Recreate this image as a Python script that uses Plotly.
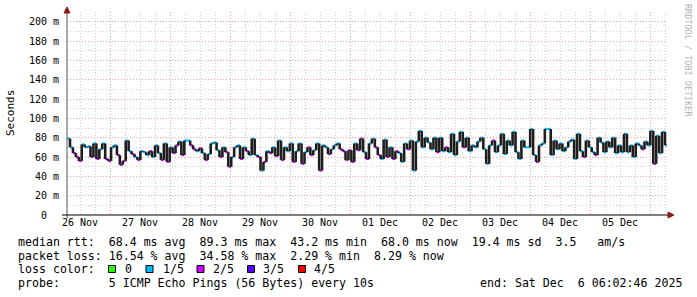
import plotly.graph_objects as go
import pandas as pd

# ---------------- data ----------------
# median round-trip time in ms, about one sample every ~72 minutes
median_rtt_ms = [
    # 26 Nov - 28 Nov
    79, 70, 64, 60, 56, 73, 70, 71, 60, 74, 58, 68, 74, 58, 56, 70, 72, 62, 52, 56,
    77, 66, 63, 60, 57, 66, 65, 62, 66, 60, 72, 64, 57, 74, 55, 70, 64, 72, 76, 62, 77,
    # 28 Nov - 30 Nov
    77, 72, 68, 66, 69, 64, 57, 63, 74, 75, 67, 60, 70, 65, 50, 60, 70, 72, 58, 70,
    66, 62, 79, 62, 60, 46, 55, 66, 64, 70, 61, 77, 57, 70, 66, 74, 55, 66, 74, 53, 65,
    # 30 Nov - 02 Dec
    70, 62, 67, 74, 46, 72, 70, 63, 68, 72, 74, 68, 66, 57, 67, 55, 74, 67, 79, 65,
    58, 74, 79, 70, 62, 58, 78, 60, 70, 58, 66, 64, 55, 74, 68, 77, 46, 76, 87, 70, 80,
    # 02 Dec - 04 Dec
    75, 68, 80, 65, 80, 66, 70, 65, 84, 62, 76, 86, 70, 80, 66, 72, 70, 76, 80, 68,
    53, 72, 77, 65, 72, 84, 63, 77, 72, 86, 65, 58, 77, 70, 70, 89, 62, 55, 72, 74, 89,
    # 04 Dec - 06 Dec
    89, 62, 77, 68, 74, 66, 70, 76, 78, 58, 84, 66, 60, 77, 70, 65, 62, 80, 75, 65,
    76, 70, 80, 64, 72, 65, 84, 65, 72, 60, 74, 72, 68, 76, 72, 87, 53, 82, 64, 86, 72,
]
# packet loss per sample, in fifths (0..4)
loss_fifths = [
    1, 1, 2, 2, 2, 1, 1, 1, 2, 1, 2, 1, 1, 2, 2, 1, 1, 2, 2, 2,
    1, 1, 2, 1, 2, 1, 1, 1, 2, 1, 1, 1, 2, 1, 2, 1, 2, 2, 1, 2, 1,
    1, 2, 2, 1, 2, 1, 2, 1, 1, 1, 1, 2, 1, 2, 2, 1, 1, 1, 2, 1,
    2, 1, 1, 1, 2, 1, 2, 1, 2, 1, 2, 1, 2, 1, 1, 1, 2, 1, 1, 2, 1,
    2, 2, 1, 1, 2, 1, 1, 2, 1, 1, 1, 2, 2, 2, 2, 2, 1, 2, 2, 1,
    2, 1, 1, 2, 2, 1, 1, 2, 1, 2, 2, 1, 1, 1, 2, 1, 1, 1, 1, 1, 1,
    1, 1, 1, 2, 1, 1, 2, 1, 1, 1, 1, 1, 2, 1, 1, 1, 1, 1, 1, 1,
    1, 1, 2, 1, 1, 1, 1, 1, 1, 1, 1, 1, 1, 1, 1, 1, 1, 2, 1, 1, 1,
    1, 1, 1, 1, 1, 1, 1, 1, 1, 1, 1, 1, 2, 1, 1, 1, 2, 1, 1, 1,
    1, 1, 1, 1, 1, 1, 1, 1, 1, 1, 1, 1, 2, 1, 1, 1, 2, 1, 1, 1, 1,
]
y_tick_values = [0, 20, 40, 60, 80, 100, 120, 140, 160, 180, 200]
y_tick_labels = ["0\u00a0\u00a0", "20 m", "40 m", "60 m", "80 m", "100 m",
                 "120 m", "140 m", "160 m", "180 m", "200 m"]
loss_labels = ["0", "1/5", "2/5", "3/5", "4/5"]
loss_colors = ["#26ff00", "#00b8ff", "#cc00ff", "#5700ff", "#ff0000"]

legend_lines = [
    "median rtt:  68.4 ms avg  89.3 ms max  43.2 ms min  68.0 ms now  19.4 ms sd  3.5   am/s",
    "packet loss: 16.54 % avg  34.58 % max  2.29 % min  8.29 % now",
    "loss color:",
    "probe:       5 ICMP Echo Pings (56 Bytes) every 10s",
]
end_text = "end: Sat Dec  6 06:02:46 2025"

range_start = pd.Timestamp("2025-11-26 06:48:00")
range_end = pd.Timestamp("2025-12-06 06:48:00")
first_sample = pd.Timestamp("2025-11-26 06:50:00")
last_sample = pd.Timestamp("2025-12-06 06:00:00")

# ---------------- figure geometry ----------------
W, H = 697, 297
L, R, T, B = 67, 30, 12, 82
PW, PH = W - L - R, H - T - B


def px(x):
    return (x - L) / PW


def py(y):
    return (H - B - y) / PH


N = len(median_rtt_ms)
times = list(pd.date_range(first_sample, last_sample, periods=N))
step = times[1] - times[0]

fig = go.Figure()

# coloured median pieces (by loss)
for k in sorted(set(loss_fifths)):
    hx, hy = [], []
    for i in range(N):
        if loss_fifths[i] == k:
            t1 = times[i + 1] if i < N - 1 else times[i] + step
            hx += [times[i], t1, None]
            hy += [median_rtt_ms[i], median_rtt_ms[i], None]
    fig.add_trace(go.Scatter(x=hx, y=hy, mode="lines",
                             line=dict(color=loss_colors[k], width=2.2),
                             hoverinfo="skip", showlegend=False))

# dark smoke / step connections
vx, vy = [], []
for i in range(N - 1):
    vx += [times[i + 1], times[i + 1], None]
    vy += [median_rtt_ms[i], median_rtt_ms[i + 1], None]
fig.add_trace(go.Scatter(x=vx, y=vy, mode="lines",
                         line=dict(color="#1e1e1e", width=2.6),
                         hoverinfo="skip", showlegend=False))

MONO = "DejaVu Sans Mono"
MAJ = "#eaa6a6"
MIN = "#d2d2d2"

fig.update_layout(
    width=W, height=H,
    margin=dict(l=L, r=R, t=T, b=B, pad=0),
    paper_bgcolor="white", plot_bgcolor="white",
    showlegend=False,
    xaxis=dict(
        type="date", range=[range_start, range_end],
        tick0="2025-11-27", dtick=86400000, tickformat="%d %b",
        ticklabelmode="period", ticks="",
        tickfont=dict(family=MONO, size=10, color="#000000"),
        showgrid=True, gridcolor=MAJ, griddash="1px,2px", gridwidth=1,
        minor=dict(dtick=21600000, tick0="2025-11-27", showgrid=True,
                   gridcolor=MIN, griddash="1px,2px", gridwidth=1),
        showline=False, zeroline=False, fixedrange=True,
    ),
    yaxis=dict(
        range=[0, 210], tickvals=y_tick_values, ticktext=y_tick_labels,
        ticks="", ticklabelstandoff=7,
        tickfont=dict(family=MONO, size=10, color="#000000"),
        showgrid=True, gridcolor=MAJ, griddash="1px,2px", gridwidth=1,
        minor=dict(dtick=10, showgrid=True, gridcolor=MIN,
                   griddash="1px,2px", gridwidth=1),
        showline=False, zeroline=False, fixedrange=True,
    ),
)

shapes = [
    # y axis
    dict(type="line", xref="paper", yref="paper", x0=px(67), x1=px(67),
         y0=py(219), y1=py(11), line=dict(color="#555555", width=1)),
    # x axis
    dict(type="line", xref="paper", yref="paper", x0=px(62), x1=px(669),
         y0=py(215), y1=py(215), line=dict(color="#000000", width=1)),
    # arrows
    dict(type="path", xref="paper", yref="paper",
         path=f"M {px(64)} {py(13)} L {px(67)} {py(7)} L {px(70)} {py(13)} Z",
         fillcolor="#8b1a1a", line=dict(color="#8b1a1a", width=1)),
    dict(type="path", xref="paper", yref="paper",
         path=f"M {px(668)} {py(212)} L {px(674)} {py(215)} L {px(668)} {py(218)} Z",
         fillcolor="#8b1a1a", line=dict(color="#8b1a1a", width=1)),
]

annotations = []
line_y = [241.5, 255.5, 269.3, 283]
for txt, yy in zip(legend_lines, line_y):
    annotations.append(dict(
        text=txt.replace(" ", "\u00a0"), xref="paper", yref="paper",
        x=px(16), y=py(yy), xanchor="left", yanchor="middle", showarrow=False,
        font=dict(family=MONO, size=11.6, color="#000000")))
annotations.append(dict(
    text=end_text.replace(" ", "\u00a0"), xref="paper", yref="paper",
    x=px(478), y=py(283), xanchor="left", yanchor="middle", showarrow=False,
    font=dict(family=MONO, size=11.6, color="#000000")))

box_left = [108.5, 146, 197, 247.5, 298.5]
label_left = [123, 160.5, 210.5, 261, 311.5]
for lbl, col, bx, lx in zip(loss_labels, loss_colors, box_left, label_left):
    shapes.append(dict(type="rect", xref="paper", yref="paper",
                       x0=px(bx), x1=px(bx + 7), y0=py(272.5), y1=py(265.5),
                       fillcolor=col, line=dict(color="#000000", width=1)))
    annotations.append(dict(
        text=lbl, xref="paper", yref="paper", x=px(lx), y=py(269.3),
        xanchor="left", yanchor="middle", showarrow=False,
        font=dict(family=MONO, size=11.6, color="#000000")))

# y axis title
annotations.append(dict(
    text="Seconds", xref="paper", yref="paper", x=px(11), y=py(113),
    xanchor="center", yanchor="middle", textangle=-90, showarrow=False,
    font=dict(family=MONO, size=11, color="#000000")))
# watermark
annotations.append(dict(
    text="RRDTOOL / TOBI OETIKER".replace(" ", "\u00a0"), xref="paper", yref="paper",
    x=px(688), y=py(60), xanchor="center", yanchor="middle", textangle=90,
    showarrow=False, font=dict(family=MONO, size=8.5, color="#b4b4b4")))

fig.update_layout(shapes=shapes, annotations=annotations)
fig.write_html("out.html")
